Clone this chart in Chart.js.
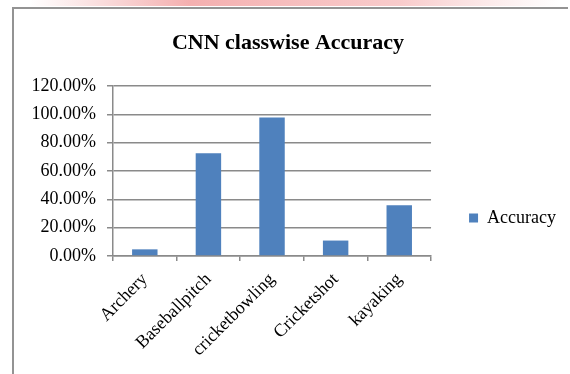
<!DOCTYPE html>
<html>
<head>
<meta charset="utf-8">
<script src="https://cdn.jsdelivr.net/npm/chart.js@4"></script>
<style>
  body { margin: 0; background: #fff; }
  #wrap { position: relative; width: 570px; height: 374px; }
</style>
</head>
<body>
<div id="wrap"><canvas id="myChart" width="570" height="374"></canvas></div>
<script>
// data
const categories = ["Archery", "Baseballpitch", "cricketbowling", "Cricketshot", "kayaking"];
const accuracy = [0.047, 0.725, 0.977, 0.109, 0.359];
const seriesName = "Accuracy";
const chartTitle = "CNN classwise Accuracy";
const yTicksMax = 1.2;
const yTicksStep = 0.2;

const serif = "'Liberation Serif', 'Times New Roman', serif";
const gridGray = "#8a8a8a";

// page frame + faint watermark band behind the chart
const frame = {
    id: "frame",
    beforeDraw: (chart) => {
        let ctx = chart.ctx;
        ctx.save();
        ctx.fillStyle = "#fff";
        ctx.fillRect(0, 0, chart.width, chart.height);
        let g = ctx.createLinearGradient(30, 0, 560, 0);
        g.addColorStop(0, "rgba(235,120,120,0)");
        g.addColorStop(0.3, "rgba(235,110,110,0.55)");
        g.addColorStop(0.7, "rgba(240,140,140,0.45)");
        g.addColorStop(1, "rgba(240,160,160,0)");
        ctx.fillStyle = g;
        ctx.fillRect(0, 0, chart.width, 6);
        ctx.strokeStyle = "#939393";
        ctx.lineWidth = 2;
        ctx.beginPath();
        ctx.moveTo(13, chart.height);
        ctx.lineTo(13, 8);
        ctx.lineTo(568, 8);
        ctx.stroke();
        ctx.restore();
    },
};

const data = {
    labels: categories,
    datasets: [
        {
            label: seriesName,
            data: accuracy,
            backgroundColor: "#4f81bd",
            borderWidth: 0,
            barPercentage: 0.4,
            categoryPercentage: 1.0,
        },
    ],
};

const config = {
    type: "bar",
    data: data,
    options: {
        responsive: false,
        animation: false,
        layout: { padding: { left: 10, right: 4, top: 10, bottom: 8 } },
        plugins: {
            title: {
                display: true,
                text: chartTitle,
                color: "#000",
                font: { family: serif, size: 22, weight: "bold", lineHeight: 1.2 },
                padding: { top: 20, bottom: 29.6 },
            },
            legend: {
                position: "right",
                align: "center",
                title: { display: true, text: "", font: { size: 10 }, padding: { top: 48, bottom: 0 } },
                labels: {
                    boxWidth: 9,
                    boxHeight: 9,
                    padding: 38,
                    color: "#000",
                    font: { family: serif, size: 18 },
                },
            },
            tooltip: { enabled: false },
        },
        scales: {
            x: {
                grid: { display: true, drawOnChartArea: false, tickLength: 5, color: gridGray, lineWidth: 1.5 },
                border: { color: gridGray, width: 1.5 },
                ticks: {
                    color: "#000",
                    font: { family: serif, size: 18 },
                    minRotation: 45,
                    maxRotation: 45,
                    padding: 8,
                },
                afterFit: (scale) => {
                    scale.height = 110;
                },
            },
            y: {
                min: 0,
                max: yTicksMax,
                grid: { color: gridGray, lineWidth: 1.5, tickLength: 6 },
                border: { color: gridGray, width: 1.5 },
                ticks: {
                    stepSize: yTicksStep,
                    color: "#000",
                    padding: 11,
                    font: { family: serif, size: 18 },
                    callback: (v) => (v * 100).toFixed(2) + "%",
                },
                afterFit: (scale) => {
                    scale.width = 103;
                },
            },
        },
    },
    plugins: [frame],
};

const myChart = new Chart(document.getElementById("myChart"), config);
</script>
</body>
</html>
